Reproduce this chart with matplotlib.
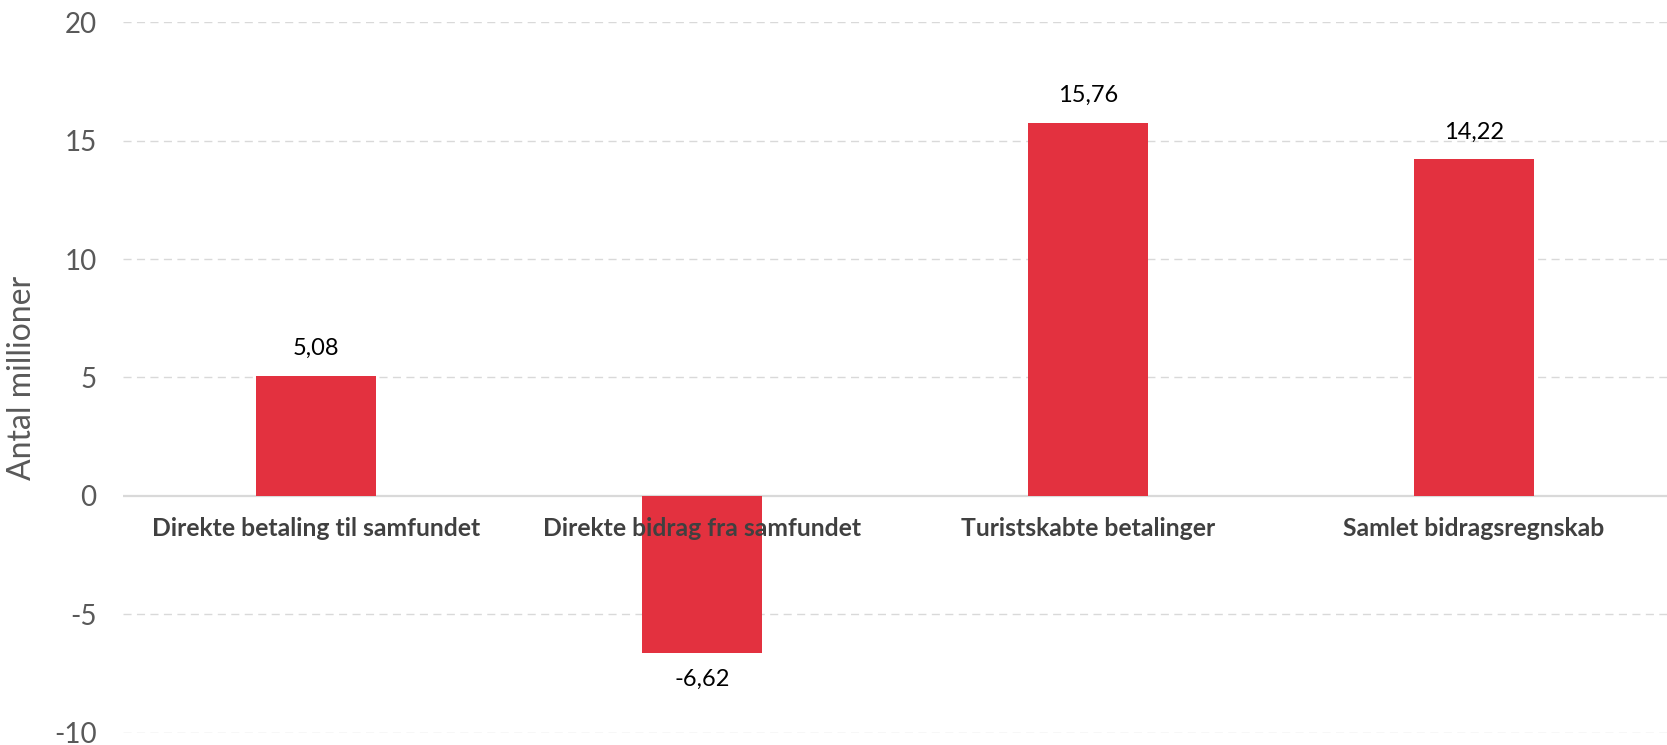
import numpy as np
import matplotlib
matplotlib.use("Agg")
import matplotlib.pyplot as plt

categories = ["Direkte betaling til samfundet", "Direkte bidrag fra samfundet",
              "Turistskabte betalinger", "Samlet bidragsregnskab"]
values = [5.08, -6.62, 15.76, 14.22]
yticks = [-10, -5, 0, 5, 10, 15, 20]

plt.rcParams['font.family'] = ['Lato', 'DejaVu Sans']

fig = plt.figure(figsize=(16.67, 7.45), dpi=100)
ax = fig.add_axes([123 / 1667, 1 - 732.6 / 745, 1 - 123 / 1667, 710.3 / 745])

x = np.arange(len(categories))
bars = ax.bar(x, values, width=0.31, color='#E3313F', zorder=2)

ax.set_xlim(-0.5, len(categories) - 0.5)
ax.set_ylim(-10, 20)
ax.set_yticks(yticks)
ax.set_yticklabels([str(t) for t in yticks], fontsize=20, color='#595959')
ax.tick_params(axis='y', length=0, pad=19)

# category labels sit on the zero line (drawn over the bars, like Excel)
ax.set_axisbelow(False)
ax.spines['bottom'].set_position(('data', 0))
ax.set_xticks(x)
ax.set_xticklabels(categories, fontsize=17.8, fontweight='bold', color='#404040')
ax.tick_params(axis='x', length=0, pad=15)
for s in ax.spines.values():
    s.set_visible(False)

# gridlines drawn by hand so they stay behind the bars
for t in yticks:
    if t != 0:
        ax.axhline(t, color='#d9d9d9', linestyle=(0, (5.8, 3.9)), linewidth=1.0, zorder=0)
ax.axhline(0, color='#d9d9d9', linewidth=1.6, zorder=1)

for b, v in zip(bars, values):
    off = 19.5 if v >= 0 else -19.5
    ax.annotate(f"{v:.2f}".replace('.', ','), (b.get_x() + b.get_width() / 2, v),
                xytext=(0, off), textcoords='offset points', ha='center', va='center',
                fontsize=17, color='black')

ax.set_ylabel('Antal millioner', fontsize=23, color='#595959')
ax.yaxis.set_label_coords(-0.056, 0.5)

fig.savefig('out.png', dpi=100)
